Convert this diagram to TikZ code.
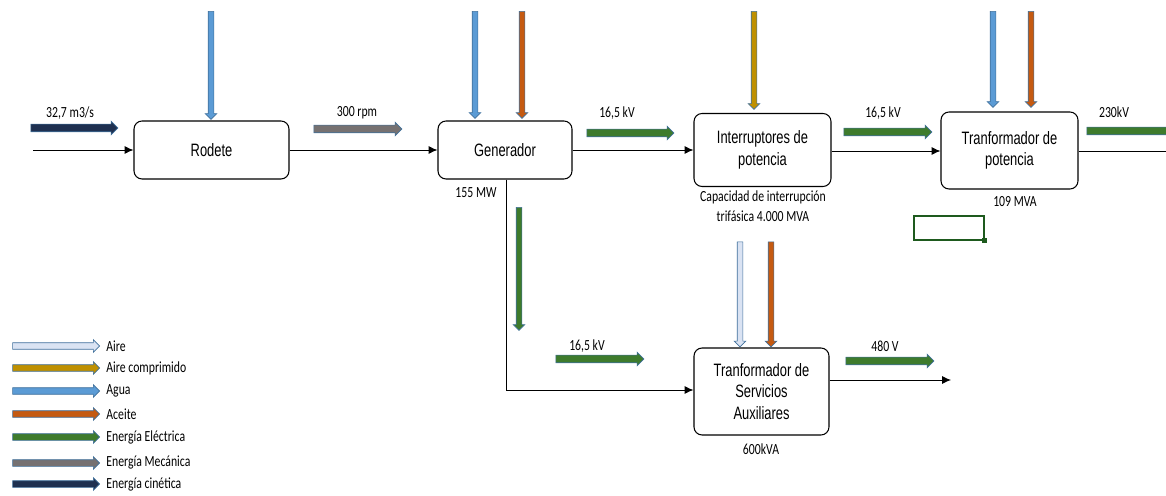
\documentclass[tikz,border=0pt]{standalone}
\usepackage{fontspec}
\setmainfont{Liberation Sans}
\newfontfamily\cajafont[FakeStretch=0.72]{Liberation Sans}
\newfontfamily\etiqfont[FakeStretch=0.76]{Carlito}
\usepackage{tikz}
\usetikzlibrary{shapes,positioning,calc}
\usetikzlibrary{shapes.arrows}
\usetikzlibrary{arrows.meta}
\definecolor{agua}{HTML}{5B9BD5}
\definecolor{aceite}{HTML}{C55A11}
\definecolor{airec}{HTML}{BF9000}
\definecolor{aire}{HTML}{DAE3F3}
\definecolor{elec}{HTML}{3E7B2C}
\definecolor{mec}{HTML}{767171}
\definecolor{cin}{HTML}{1F3050}
\definecolor{borde}{HTML}{41719C}
\definecolor{celda}{HTML}{1E5A1E}
\tikzstyle{bloque} = [rectangle, rounded corners=0.16cm, text centered, align=center, draw=black, line width=0.6pt, font=\cajafont\fontsize{10.2}{12.3}\selectfont]
\tikzstyle{etiqueta} = [inner sep=0pt, align=center, font=\etiqfont\fontsize{8.8}{11.3}\selectfont]
\tikzstyle{flecha} = [single arrow, inner xsep=0pt, single arrow head extend=0.06cm, draw=borde, line width=0.35pt]
\tikzstyle{flechah} = [flecha, inner ysep=0.07cm]
\tikzstyle{flechav} = [flecha, inner ysep=0.05cm, rotate=-90]
\tikzstyle{flechal} = [flecha, inner ysep=0.06cm, minimum height=1.74cm]
\tikzstyle{arrow} = [line width=0.55pt,-{Latex[length=5pt,width=4.5pt]}]
\begin{document}
\begin{tikzpicture}[x=0.02cm,y=-0.02cm]
\useasboundingbox (0,0) rectangle (1166,496);
% bloques
\node (rod) at (211.5,150) [bloque, minimum width=3.1cm, minimum height=1.16cm] {Rodete};
\node (gen) at (505,150) [bloque, minimum width=2.68cm, minimum height=1.16cm] {Generador};
\node (int) at (762.5,150) [bloque, minimum width=2.74cm, minimum height=1.46cm] {Interruptores de\\potencia};
\node (tp) at (1009.5,150.5) [bloque, minimum width=2.74cm, minimum height=1.54cm] {Tranformador de\\potencia};
\node (tsa) at (761.5,391.5) [bloque, minimum width=2.7cm, minimum height=1.74cm] {Tranformador de\\Servicios\\Auxiliares};
% lineas
\coordinate (ent) at (33,150);
\coordinate (sal) at (1170,151);
\coordinate (esq) at (506,390);
\coordinate (aux) at (951,380);
\draw[arrow] (ent) -- (rod);
\draw[arrow] (rod) -- (gen);
\draw[arrow] (gen) -- (int);
\draw[arrow] (int.east |- 0,151) -- (tp.west |- 0,151);
\draw[line width=0.55pt] (tp.east |- 0,151) -- (sal);
\draw[arrow] (gen.south -| esq) -- (esq) -- (tsa.west |- esq);
\draw[arrow] (tsa.east |- aux) -- (aux);
% flechas horizontales
\node (fcin) at (72.5,128) [flechah, fill=cin, minimum height=1.74cm] {};
\node (fmec) at (356,129) [flechah, fill=mec, minimum height=1.76cm] {};
\node (fel1) at (628.5,133) [flechah, fill=elec, minimum height=1.74cm] {};
\node (fel2) at (886,132) [flechah, fill=elec, minimum height=1.76cm] {};
\node (fel3) at (1129,131) [flechah, fill=elec, minimum height=1.76cm] {};
\node (fel4) at (598,359) [flechah, fill=elec, minimum height=1.76cm] {};
\node (fel5) at (888,361) [flechah, fill=elec, minimum height=1.76cm] {};
% flechas verticales
\node (agua1) at (211,64) [flechav, fill=agua, minimum height=2.16cm] {};
\node (agua2) at (475,63.5) [flechav, fill=agua, minimum height=2.14cm] {};
\node (ace1) at (522,63.5) [flechav, fill=aceite, minimum height=2.14cm] {};
\node (airc1) at (754,59) [flechav, fill=airec, minimum height=1.96cm] {};
\node (agua3) at (993,58) [flechav, fill=agua, minimum height=1.92cm] {};
\node (ace2) at (1031,58) [flechav, fill=aceite, minimum height=1.92cm] {};
\node (fel6) at (519,267.5) [flechav, fill=elec, minimum height=2.46cm] {};
\node (aire1) at (740,293) [flechav, fill=aire, minimum height=2.1cm] {};
\node (ace3) at (771,293) [flechav, fill=aceite, minimum height=2.1cm] {};
% etiquetas
\node (t1) at (70,113) [etiqueta] {32,7 m3/s};
\node (t2) at (357,113) [etiqueta] {300 rpm};
\node (t3) at (617,113) [etiqueta] {16,5 kV};
\node (t4) at (883,113) [etiqueta] {16,5 kV};
\node (t5) at (1114,112) [etiqueta] {230kV};
\node (t6) at (476,193) [etiqueta] {155 MW};
\node (t7) at (763,206) [etiqueta] {Capacidad de interrupción\\trifásica 4.000 MVA};
\node (t8) at (1015,202) [etiqueta] {109 MVA};
\node (t9) at (587,346) [etiqueta] {16,5 kV};
\node (t10) at (885,346) [etiqueta] {480 V};
\node (t11) at (761,449) [etiqueta] {600kVA};
% celda
\draw[celda, line width=0.9pt] (914,216) rectangle (984,240);
\fill[celda] (982,238) rectangle (987,243);
% leyenda
\node (l1) at (54.5,346) [flechal, fill=aire] {};
\node (l2) at (54.5,368) [flechal, fill=airec] {};
\node (l3) at (54.5,391) [flechal, fill=agua] {};
\node (l4) at (54.5,414) [flechal, fill=aceite] {};
\node (l5) at (54.5,437) [flechal, fill=elec] {};
\node (l6) at (54.5,463) [flechal, fill=mec] {};
\node (l7) at (54.5,484) [flechal, fill=cin] {};
\node[etiqueta, right=0.12cm of l1] (n1) {Aire};
\node[etiqueta, right=0.12cm of l2] (n2) {Aire comprimido};
\node[etiqueta, right=0.12cm of l3] (n3) {Agua};
\node[etiqueta, right=0.12cm of l4] (n4) {Aceite};
\node[etiqueta, right=0.12cm of l5] (n5) {Energía Eléctrica};
\node[etiqueta, right=0.12cm of l6] (n6) {Energía Mecánica};
\node[etiqueta, right=0.12cm of l7] (n7) {Energía cinética};
\end{tikzpicture}
\end{document}
